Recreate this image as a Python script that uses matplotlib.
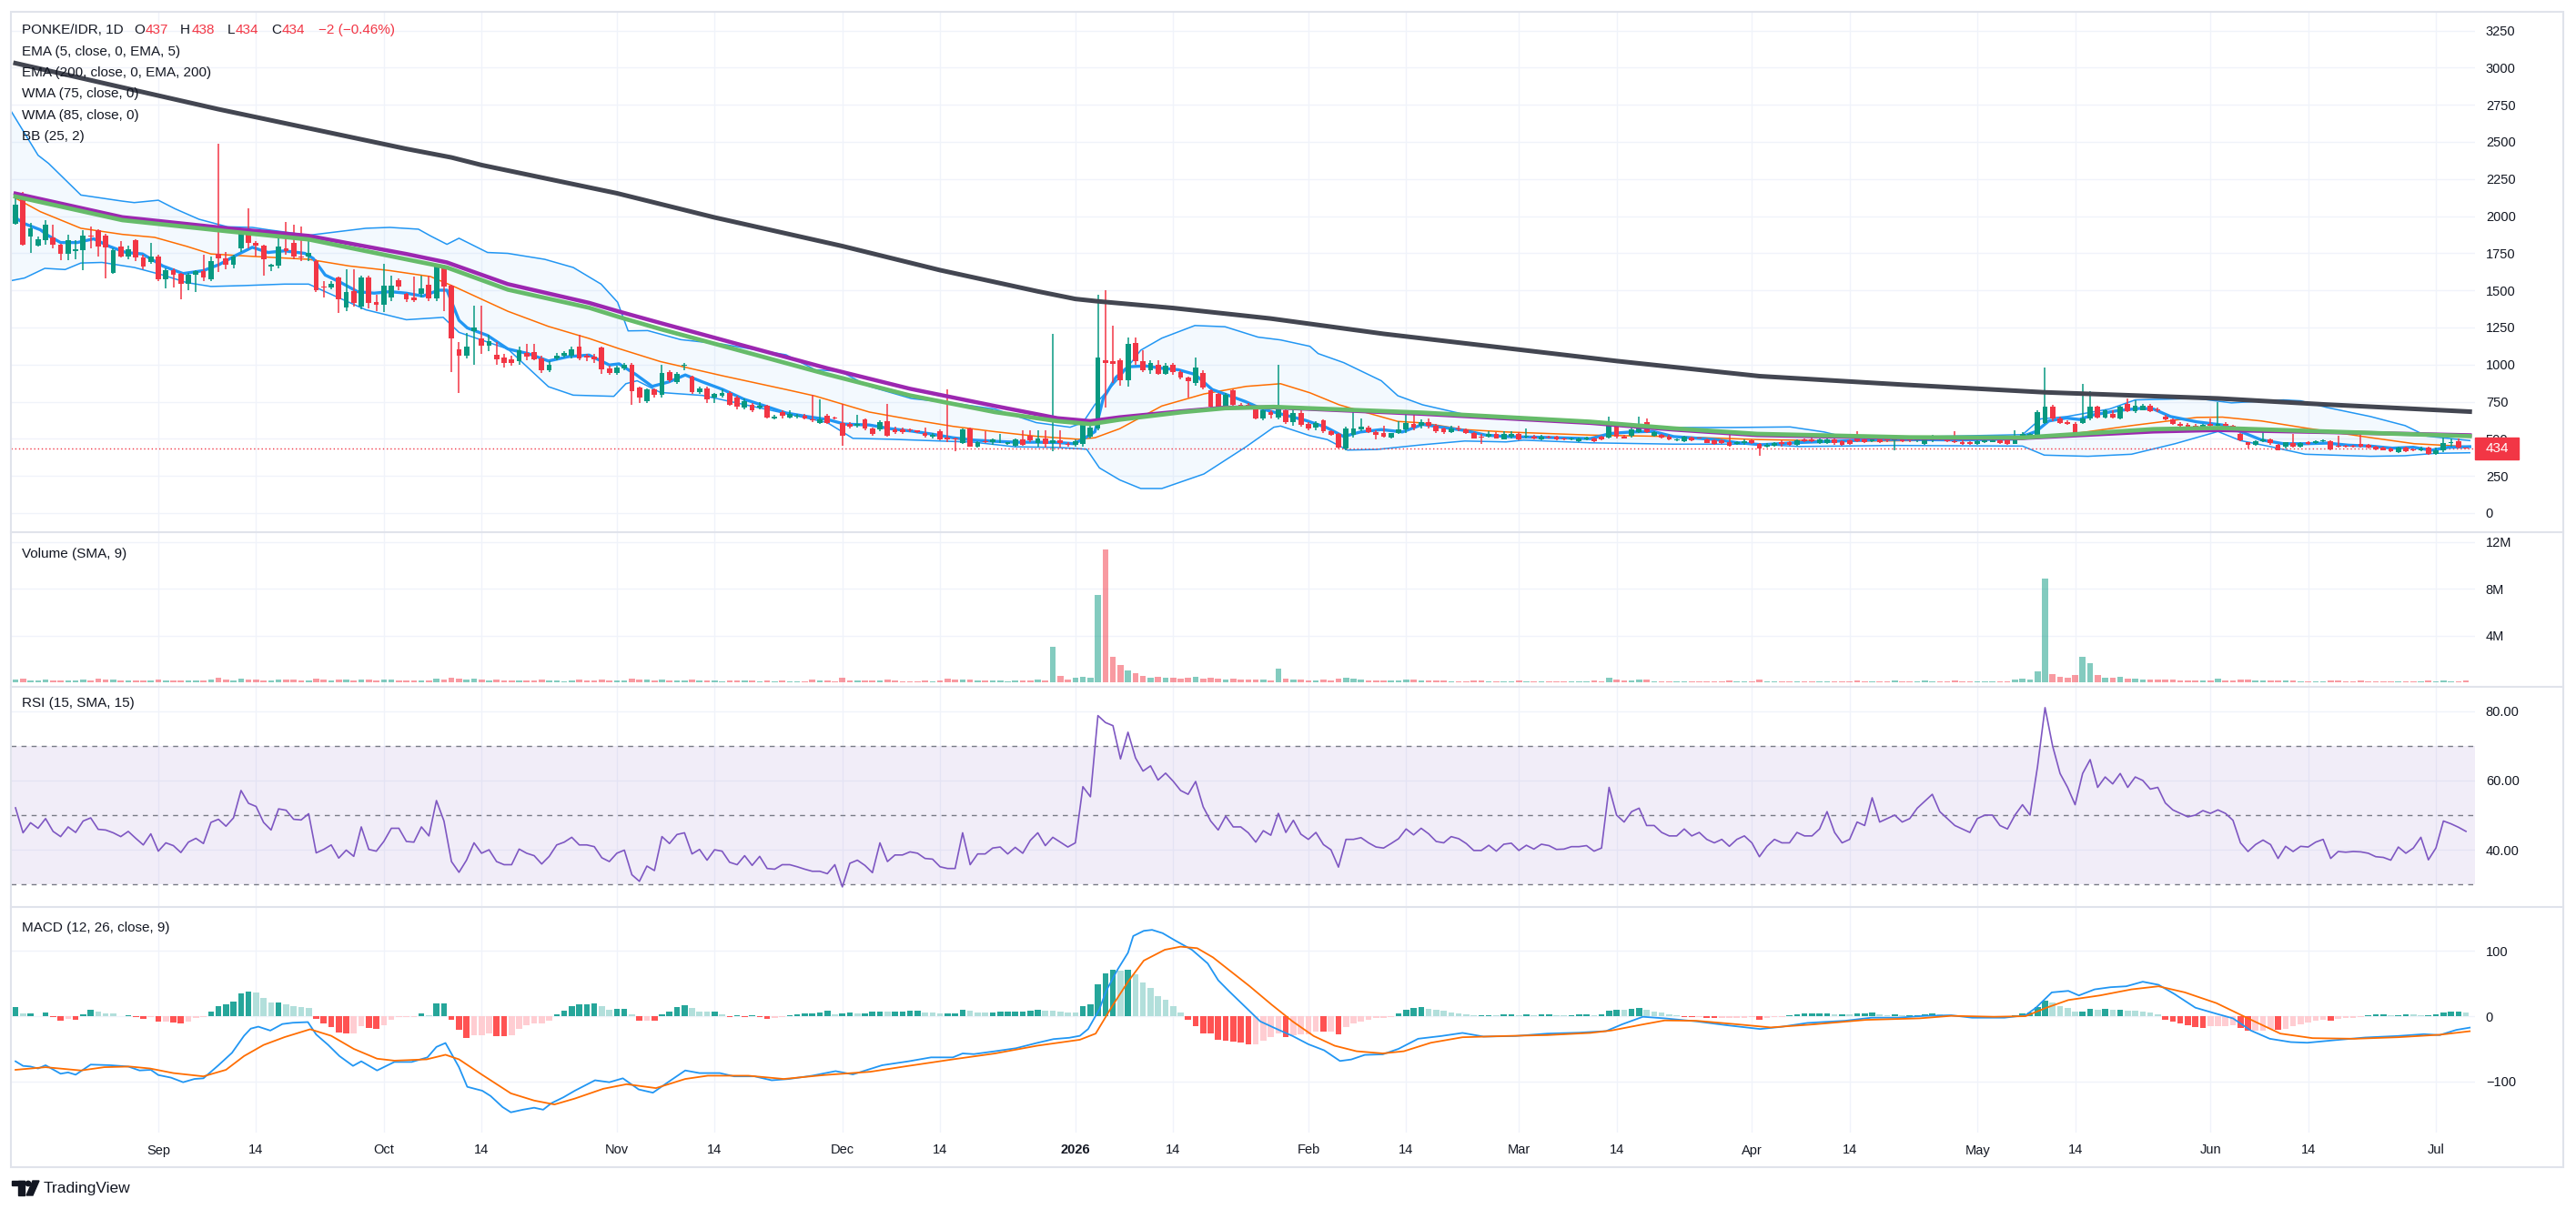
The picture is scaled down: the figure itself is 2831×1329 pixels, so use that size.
import matplotlib
matplotlib.use("Agg")
import matplotlib.pyplot as plt
import matplotlib.transforms as mtransforms
from matplotlib.colors import to_rgba
from matplotlib.lines import Line2D
from matplotlib.patches import Rectangle, Circle, Polygon
import numpy as np
import pandas as pd

plt.rcParams['font.family'] = ['Liberation Sans', 'DejaVu Sans']

W, H = 2831, 1329
start = pd.Timestamp('2025-08-13')

opens = [
    1949, 2152, 1863, 1802, 1837, 1857, 1806, 1749, 1766, 1771,
    1871, 1904, 1871, 1620, 1794, 1729, 1837, 1721, 1690, 1725,
    1577, 1637, 1613, 1546, 1603, 1627, 1577, 1745, 1717, 1672,
    1782, 1898, 1820, 1800, 1660, 1664, 1780, 1817, 1729, 1729,
    1695, 1528, 1522, 1587, 1383, 1495, 1390, 1587, 1420, 1400,
    1454, 1566, 1477, 1450, 1477, 1538, 1446, 1660, 1532, 1104,
    1058, 1223, 1176, 1125, 1064, 1048, 1038, 1020, 1080, 1084,
    1044, 961, 1040, 1062, 1058, 1123, 1062, 1054, 1115, 976,
    942, 975, 999, 843, 755, 832, 796, 948, 883, 990,
    918, 812, 840, 780, 788, 806, 776, 711, 731, 710,
    720, 640, 680, 645, 648, 654, 631, 609, 654, 640,
    609, 598, 590, 629, 568, 564, 619, 564, 564, 560,
    556, 540, 513, 552, 507, 501, 471, 568, 446, 483,
    475, 493, 467, 454, 495, 523, 470, 503, 474, 490,
    466, 458, 466, 517, 572, 1032, 1020, 1028, 897, 1148,
    1025, 961, 1001, 940, 997, 952, 914, 873, 942, 826,
    800, 715, 824, 727, 727, 706, 634, 682, 643, 694,
    611, 672, 603, 576, 623, 550, 534, 434, 525, 566,
    578, 546, 537, 509, 536, 562, 603, 586, 611, 586,
    570, 546, 570, 562, 537, 511, 515, 533, 499, 515,
    530, 513, 517, 493, 517, 513, 505, 495, 485, 495,
    505, 513, 511, 582, 517, 521, 546, 611, 519, 529,
    517, 491, 485, 509, 509, 497, 491, 491, 477, 464,
    469, 489, 464, 444, 454, 477, 478, 460, 497, 497,
    469, 469, 495, 481, 489, 513, 499, 485, 505, 499,
    491, 495, 500, 488, 467, 488, 510, 497, 486, 475,
    476, 466, 475, 480, 490, 500, 468, 503, 520, 520,
    607, 717, 636, 615, 600, 607, 636, 714, 643, 670,
    636, 735, 684, 695, 725, 700, 652, 628, 603, 597,
    590, 575, 600, 585, 600, 590, 532, 475, 461, 482,
    495, 458, 444, 471, 446, 478, 470, 482, 485, 455,
    452, 455, 465, 460, 450, 440, 435, 410, 440, 430,
    420, 442, 395, 420, 470, 485, 437]

highs = [
    2158, 2160, 1952, 1860, 1975, 1942, 1815, 1877, 1837, 1904,
    1930, 1910, 1880, 1785, 1830, 1800, 1845, 1740, 1820, 1740,
    1650, 1650, 1620, 1620, 1635, 1740, 1730, 2490, 1760, 1740,
    1910, 2050, 1830, 1810, 1680, 1900, 1959, 1940, 1930, 1840,
    1710, 1560, 1560, 1590, 1640, 1640, 1600, 1600, 1470, 1680,
    1600, 1580, 1480, 1590, 1600, 1600, 1680, 1670, 1540, 1150,
    1213, 1394, 1394, 1200, 1150, 1070, 1060, 1120, 1140, 1140,
    1060, 1020, 1080, 1090, 1120, 1200, 1070, 1070, 1120, 990,
    990, 1010, 1010, 850, 840, 840, 1000, 960, 950, 1010,
    925, 850, 850, 810, 830, 820, 790, 770, 740, 745,
    730, 660, 690, 690, 670, 670, 796, 765, 665, 650,
    735, 610, 660, 640, 575, 625, 735, 580, 575, 570,
    560, 575, 540, 565, 836, 510, 570, 575, 485, 550,
    500, 535, 480, 505, 560, 560, 560, 560, 1205, 560,
    480, 495, 620, 600, 1473, 1503, 1265, 1040, 1180, 1180,
    1097, 1030, 1030, 1010, 1010, 960, 920, 1050, 960, 835,
    810, 810, 835, 740, 740, 715, 700, 690, 999, 700,
    700, 690, 610, 620, 630, 560, 540, 580, 706, 640,
    590, 560, 590, 540, 620, 660, 670, 630, 640, 600,
    575, 590, 590, 570, 545, 530, 550, 545, 550, 550,
    545, 570, 525, 525, 520, 520, 510, 510, 510, 515,
    510, 520, 650, 600, 525, 580, 650, 640, 550, 535,
    525, 505, 520, 515, 510, 505, 495, 495, 540, 485,
    495, 495, 470, 470, 480, 490, 485, 495, 505, 510,
    500, 505, 500, 490, 495, 550, 510, 515, 510, 505,
    500, 500, 505, 515, 520, 525, 515, 505, 550, 490,
    485, 495, 500, 500, 495, 505, 560, 545, 540, 690,
    980, 730, 650, 625, 610, 867, 820, 725, 700, 690,
    720, 770, 760, 735, 735, 710, 660, 640, 610, 605,
    600, 600, 640, 750, 610, 595, 540, 480, 490, 550,
    500, 465, 480, 530, 480, 485, 490, 495, 490, 520,
    460, 460, 550, 465, 455, 445, 440, 450, 445, 435,
    445, 450, 440, 510, 500, 500, 438]

lows = [
    1940, 1800, 1751, 1795, 1810, 1782, 1705, 1705, 1709, 1633,
    1780, 1730, 1580, 1610, 1720, 1710, 1700, 1640, 1680, 1560,
    1515, 1520, 1440, 1500, 1491, 1560, 1560, 1623, 1640, 1650,
    1760, 1780, 1725, 1600, 1630, 1650, 1740, 1710, 1700, 1700,
    1490, 1450, 1510, 1345, 1360, 1390, 1370, 1380, 1360, 1355,
    1430, 1500, 1420, 1420, 1450, 1430, 1430, 1363, 952, 810,
    1040, 1000, 1070, 1090, 1000, 980, 990, 1000, 1030, 1030,
    945, 950, 1030, 1050, 1040, 1030, 1020, 1010, 935, 930,
    930, 960, 730, 740, 740, 780, 780, 880, 870, 960,
    800, 800, 740, 740, 780, 720, 700, 700, 680, 700,
    635, 630, 640, 640, 635, 630, 610, 600, 600, 630,
    454, 570, 575, 560, 520, 550, 515, 535, 530, 545,
    540, 510, 505, 490, 475, 416, 465, 445, 440, 470,
    460, 470, 460, 445, 455, 475, 445, 440, 416, 440,
    450, 445, 450, 500, 560, 710, 873, 860, 850, 1000,
    950, 940, 930, 930, 930, 900, 780, 860, 830, 700,
    700, 690, 720, 700, 700, 630, 625, 640, 630, 600,
    590, 580, 560, 560, 540, 520, 435, 424, 510, 550,
    540, 495, 510, 500, 530, 540, 560, 570, 570, 540,
    530, 540, 550, 530, 500, 464, 510, 500, 495, 505,
    490, 500, 495, 490, 500, 490, 490, 490, 480, 490,
    475, 490, 505, 505, 500, 510, 540, 540, 515, 505,
    490, 485, 480, 485, 500, 470, 460, 468, 448, 460,
    460, 465, 387, 438, 445, 450, 455, 455, 480, 480,
    465, 465, 460, 455, 460, 475, 470, 480, 472, 480,
    424, 480, 480, 480, 460, 480, 490, 480, 470, 462,
    460, 460, 470, 475, 465, 460, 465, 495, 510, 515,
    600, 620, 600, 595, 535, 600, 625, 640, 635, 635,
    630, 680, 675, 690, 680, 680, 625, 595, 580, 570,
    575, 570, 580, 580, 575, 565, 485, 435, 455, 475,
    462, 420, 435, 440, 440, 460, 465, 475, 420, 440,
    440, 440, 440, 435, 420, 420, 410, 405, 410, 415,
    415, 390, 390, 410, 450, 435, 434]

closes = [
    2075, 1810, 1918, 1847, 1944, 1810, 1749, 1841, 1776, 1871,
    1865, 1796, 1790, 1770, 1729, 1774, 1721, 1658, 1725, 1577,
    1633, 1607, 1546, 1607, 1627, 1587, 1700, 1715, 1672, 1725,
    1898, 1820, 1800, 1710, 1670, 1794, 1766, 1729, 1720, 1755,
    1501, 1518, 1542, 1437, 1487, 1416, 1587, 1416, 1400, 1530,
    1532, 1525, 1440, 1436, 1512, 1446, 1664, 1526, 1176, 1058,
    1121, 1247, 1129, 1156, 1034, 1009, 1009, 1099, 1054, 1034,
    963, 1000, 1062, 1078, 1105, 1044, 1048, 1034, 965, 942,
    981, 1000, 822, 776, 832, 796, 942, 893, 938, 1000,
    816, 840, 767, 800, 806, 731, 715, 755, 690, 725,
    645, 648, 654, 665, 656, 640, 627, 630, 609, 636,
    523, 584, 600, 568, 532, 613, 523, 548, 544, 556,
    548, 521, 527, 497, 495, 495, 564, 450, 478, 479,
    495, 497, 475, 495, 462, 487, 505, 466, 490, 470,
    462, 483, 605, 578, 1046, 1011, 1003, 897, 1137, 1021,
    961, 1009, 940, 991, 950, 910, 890, 979, 847, 715,
    715, 796, 727, 706, 710, 637, 690, 662, 696, 611,
    672, 597, 570, 607, 550, 525, 440, 572, 572, 580,
    546, 525, 517, 536, 562, 605, 576, 611, 586, 550,
    542, 570, 562, 537, 505, 507, 535, 505, 530, 535,
    497, 521, 501, 517, 511, 493, 495, 505, 505, 509,
    481, 493, 595, 513, 505, 566, 590, 546, 542, 511,
    497, 497, 513, 491, 505, 473, 464, 473, 452, 478,
    485, 469, 434, 460, 474, 464, 462, 491, 485, 485,
    493, 499, 471, 460, 464, 481, 475, 509, 479, 491,
    495, 485, 488, 500, 508, 510, 497, 486, 475, 468,
    466, 486, 488, 490, 470, 468, 503, 535, 530, 677,
    717, 636, 607, 600, 540, 636, 714, 643, 690, 643,
    714, 684, 725, 722, 684, 690, 632, 603, 590, 575,
    580, 595, 585, 600, 590, 570, 489, 461, 482, 495,
    470, 424, 475, 446, 470, 468, 482, 490, 428, 448,
    446, 448, 445, 440, 428, 425, 418, 440, 418, 425,
    435, 395, 420, 470, 475, 440, 434]

# volume in millions
volumes = [
    0.25, 0.3, 0.15, 0.12, 0.2, 0.15, 0.18, 0.15, 0.12, 0.25,
    0.15, 0.3, 0.25, 0.2, 0.15, 0.12, 0.18, 0.15, 0.12, 0.2,
    0.15, 0.12, 0.18, 0.15, 0.12, 0.15, 0.2, 0.35, 0.2, 0.18,
    0.3, 0.25, 0.2, 0.18, 0.12, 0.25, 0.2, 0.22, 0.15, 0.12,
    0.3, 0.2, 0.15, 0.25, 0.2, 0.18, 0.22, 0.2, 0.12, 0.25,
    0.2, 0.15, 0.15, 0.12, 0.15, 0.18, 0.3, 0.25, 0.4, 0.3,
    0.25, 0.3, 0.25, 0.15, 0.2, 0.15, 0.12, 0.15, 0.12, 0.15,
    0.2, 0.15, 0.12, 0.1, 0.15, 0.2, 0.12, 0.12, 0.25, 0.15,
    0.12, 0.15, 0.3, 0.2, 0.2, 0.15, 0.25, 0.15, 0.15, 0.12,
    0.2, 0.12, 0.15, 0.12, 0.1, 0.15, 0.15, 0.12, 0.12, 0.1,
    0.15, 0.1, 0.12, 0.1, 0.1, 0.1, 0.2, 0.18, 0.15, 0.1,
    0.35, 0.15, 0.12, 0.15, 0.12, 0.15, 0.25, 0.12, 0.1, 0.1,
    0.1, 0.12, 0.1, 0.15, 0.3, 0.2, 0.2, 0.22, 0.12, 0.15,
    0.12, 0.15, 0.1, 0.15, 0.15, 0.15, 0.2, 0.18, 3.0, 0.55,
    0.25, 0.4, 0.45, 0.35, 7.5, 11.4, 2.2, 1.5, 1.0, 0.8,
    0.55, 0.4, 0.45, 0.4, 0.35, 0.3, 0.35, 0.5, 0.3, 0.35,
    0.3, 0.25, 0.3, 0.2, 0.2, 0.25, 0.2, 0.15, 1.2, 0.3,
    0.25, 0.2, 0.15, 0.15, 0.2, 0.15, 0.3, 0.35, 0.3, 0.2,
    0.15, 0.15, 0.15, 0.12, 0.15, 0.2, 0.2, 0.15, 0.15, 0.15,
    0.12, 0.1, 0.1, 0.1, 0.15, 0.12, 0.1, 0.1, 0.1, 0.1,
    0.12, 0.1, 0.1, 0.1, 0.08, 0.1, 0.08, 0.08, 0.1, 0.08,
    0.12, 0.1, 0.4, 0.25, 0.12, 0.15, 0.2, 0.2, 0.1, 0.1,
    0.1, 0.08, 0.1, 0.08, 0.08, 0.1, 0.1, 0.08, 0.12, 0.08,
    0.08, 0.08, 0.2, 0.1, 0.08, 0.08, 0.08, 0.1, 0.08, 0.08,
    0.08, 0.1, 0.1, 0.08, 0.08, 0.12, 0.08, 0.1, 0.08, 0.08,
    0.15, 0.08, 0.08, 0.08, 0.12, 0.1, 0.08, 0.08, 0.12, 0.08,
    0.08, 0.08, 0.08, 0.08, 0.08, 0.1, 0.2, 0.3, 0.25, 0.9,
    8.9, 0.7, 0.5, 0.4, 0.6, 2.2, 1.6, 0.6, 0.4, 0.35,
    0.45, 0.3, 0.3, 0.25, 0.25, 0.2, 0.2, 0.2, 0.15, 0.15,
    0.12, 0.15, 0.15, 0.3, 0.15, 0.12, 0.25, 0.2, 0.12, 0.15,
    0.12, 0.15, 0.12, 0.15, 0.1, 0.1, 0.08, 0.08, 0.15, 0.12,
    0.08, 0.08, 0.12, 0.08, 0.1, 0.08, 0.08, 0.1, 0.08, 0.08,
    0.08, 0.15, 0.1, 0.15, 0.1, 0.1, 0.12]

rsi = [
    52.1, 44.9, 47.8, 46.2, 49, 45.3, 43.8, 46.6, 45, 48.3,
    49.2, 45.9, 45.7, 44.9, 43.8, 45.3, 43.3, 41.4, 44.6, 39.6,
    42, 41.2, 39.2, 42.2, 43.3, 41.8, 47.9, 48.8, 46.8, 49.2,
    57.1, 53.4, 52.5, 47.9, 45.7, 51.8, 51.4, 48.8, 48.6, 50.4,
    39.1, 40.1, 41.4, 37.6, 39.9, 38.1, 46.6, 40.1, 39.6, 42.4,
    46.2, 46.2, 42.4, 42.2, 46.6, 44, 54.2, 48.3, 36.6, 33.5,
    37, 42, 39, 40, 36.6, 35.7, 35.7, 40.2, 39, 38.3,
    35.9, 38.1, 41.4, 42.2, 43.6, 41.4, 41.4, 40.9, 37.7, 36.6,
    39, 39.9, 32.8, 30.9, 35.3, 34, 43.8, 41.8, 44.4, 44.9,
    38.8, 40.1, 37, 40, 39.6, 36.4, 35.7, 38.3, 35.5, 38.1,
    34.6, 34.4, 35.7, 35.7, 35.1, 34.4, 33.8, 33.8, 33.1, 35.7,
    29.3, 36.1, 37, 35.5, 33.4, 42, 36.6, 38.5, 38.5, 39.4,
    39, 37.5, 37.3, 35.1, 34.6, 34.6, 44.9, 35.7, 38.8, 38.8,
    40.5, 40.8, 38.8, 40.7, 39, 42.7, 44.9, 41.2, 43.6, 42.2,
    40.8, 42, 58.2, 55.3, 78.7, 76.7, 75.8, 66.2, 73.9, 66.5,
    62.7, 64.2, 60.1, 62.1, 59.8, 57.1, 56, 59.7, 52.4, 48.3,
    45.7, 49.7, 46.6, 46.6, 44.9, 42.2, 45.5, 44.2,
    50.5, 45, 48.5, 44.5, 43, 45, 41.5, 40, 35, 43,
    43, 43.5, 42, 40.8, 40.5, 41.8, 43.2, 46, 44.3, 46.2,
    44.6, 42.4, 42, 43.8, 43.2, 41.8, 39.8, 39.8, 41.3, 39.6,
    41.6, 41.9, 39.8, 41.3, 40.2, 41.6, 41.2, 40.1, 40.2, 40.9,
    40.9, 41.2, 39.6, 40.5, 58, 50, 48, 51, 52, 47,
    47, 45, 44, 44, 46, 44, 45, 43, 42, 43,
    41, 43, 44, 42, 38, 41, 43, 42, 42, 45,
    44, 44, 46, 51, 45, 42, 43, 48, 47, 55,
    48, 49, 50, 48, 49, 52, 54, 56, 51, 49,
    47, 46, 45, 49, 50, 50, 47, 46, 50, 53,
    50, 64, 81, 70, 62, 58, 53, 62, 66, 58,
    61, 59, 62, 58, 61, 60, 57.5, 58, 53.5, 51.5,
    50.5, 49.5, 50, 51.3, 50.5, 51.5, 50.5, 48.5, 42, 39.5,
    41.5, 42.8, 41.5, 37.5, 41, 39.5, 41, 40.8, 42.2, 43,
    37.5, 39.5, 39.3, 39.5, 39.4, 39, 38, 37.8, 37, 40.8,
    39, 40.5, 43.6, 37.1, 40.5, 48.3, 47.5, 46.5, 45.3]

macd_hist = [
    13.5, 3.7, 3.7, -0.5, 5.6, -1, -7.5, -4, -5.6, 2.8,
    9.3, 6.5, 4.7, 3.7, -0.5, 1.9, -1, -3.7, -2, -8.4,
    -8.4, -9.3, -11.2, -8.4, -2.8, -1.9, 7.5, 15.9, 17.7, 22.4,
    35.4, 37.3, 36.4, 28, 21.4, 21.4, 17.7, 15.4, 14, 13,
    -4.7, -11.2, -16.8, -25, -26, -26, -15.8, -18.2, -19.6, -14,
    -5.6, -1.9, -1, -1, 4.7, 1.9, 19, 19, -5.6, -21.4,
    -33.6, -29, -29, -26, -30, -31, -29, -19.6, -14, -11.2,
    -11.2, -6.5, 2.8, 8.4, 15.9, 17.7, 18.6, 19, 14.9, 10.3,
    11.2, 11.2, 2.8, -6.5, -6.5, -7.5, 2.8, 7.5, 13.5, 16.8,
    13, 7.5, 6.5, 6.5, 2.8, -1, 1.4, -1, 1.9, -1.4,
    -3.7, -2.8, -1, 1, 2.8, 3.7, 4.7, 5.1, 7.9, 2.8,
    4.7, 5.1, 4.2, 4.2, 7.5, 7.5, 6.5, 7.5, 7.5, 8,
    9, 6, 5, 4, 4, 4, 10, 8, 6, 5,
    6, 7, 7, 7, 7, 9, 10, 9, 8, 7,
    6, 5, 16, 18, 49, 65, 71, 70, 71, 64,
    52, 43, 31, 25, 16, 6, -5.6, -15, -26, -27,
    -36, -37, -39, -40.5, -43, -43, -38, -32, -26.6, -32.6,
    -29, -28, -28, -23, -24, -23, -28, -16, -11.7, -8,
    -5.6, -3.3, -2.3, -1.4, 4.7, 9.8, 13, 14, 10.7, 9.3,
    8, 6, 4.7, 2.8, 1.4, 1.4, 1.9, 1.4, 2.3, 2.8,
    1.4, 2.3, 1.4, 2.8, 2.8, 1.4, 1, 1.4, 2.3, 2.8,
    1.4, 2.3, 8.9, 9.8, 9.3, 10.7, 12, 9.3, 7.5, 5.1,
    2.8, 1.4, -1, -1.9, -1.9, -2.8, -3.3, -3.3, -3.3, -2.3,
    -2.3, -1.9, -5.6, -2.3, -1.4, -1.4, 1.4, 2.8, 4.2, 4.2,
    4.7, 4.7, 3.3, 3.3, 2.3, 4.2, 4.2, 5.1, 3.3, 1.9,
    2.3, 1.4, 1.4, 1.9, 2.8, 3.7, 2.3, 1.4, 0.5, -0.9,
    -0.9, -0.5, -0.5, 0.5, -0.5, -0.5, 1.4, 3.7, 6, 14,
    23.8, 21, 16, 12, 7, 7, 11.7, 9.3, 10.7, 9.3,
    9.8, 8.4, 7.9, 7, 5.1, 2.8, -5.6, -8.9, -11.2, -14,
    -16.3, -18.2, -15.9, -15.9, -15, -13.5, -18.2, -22, -22, -22,
    -19.6, -21, -19.6, -15, -12.6, -9.3, -7, -5.6, -7, -4.2,
    -3.3, -2.3, -1.4, 1.4, 2.3, 2.3, 1.4, 1.4, 2.8, 2.3,
    1.4, 1.4, 3.3, 6, 6.5, 6.5, 6]

# indicator lines as (day index, value)
ema5_pts = [
    (0, 1989), (1.2, 1949), (3.3, 1908), (4.4, 1867), (6, 1822), (8.2, 1822), (10.4, 1847),
    (12.5, 1796), (14.7, 1755), (16.9, 1745), (19.6, 1664), (22.3, 1613), (25, 1633),
    (27.1, 1674), (29.3, 1735), (31.5, 1790), (33.6, 1755), (35.8, 1766), (38.5, 1749),
    (39.6, 1715), (41.2, 1603), (43.3, 1552), (45.5, 1491), (47.7, 1481), (49.8, 1491),
    (52, 1481), (54.2, 1461), (56.3, 1501), (57.4, 1501), (59, 1298), (60.1, 1247),
    (62.8, 1196), (65.5, 1105), (68.2, 1074), (70.9, 1024), (73.6, 1054), (76.3, 1064),
    (79, 997), (80.3, 1005), (82.5, 934), (84.7, 853), (86.9, 883), (89.1, 930),
    (91.4, 883), (94.1, 832), (96.9, 767), (99.7, 721), (102.5, 674), (105.3, 650),
    (108.1, 629), (110.3, 599), (113.6, 593), (116.4, 568), (119.2, 552), (121.9, 532),
    (124.7, 507), (127.5, 491), (130.3, 483), (133.1, 477), (135.8, 477), (138.6, 475),
    (140.8, 467), (142, 497), (143.6, 548), (144.7, 771), (146.4, 914), (148, 985),
    (150.3, 991), (152.5, 975), (154.7, 965), (156.9, 934), (159.2, 832), (161.4, 792),
    (163.6, 751), (165.9, 700), (168.3, 668), (171.7, 623), (174.4, 576), (176.7, 515),
    (178.9, 546), (181.7, 562), (184.5, 546), (187.2, 597), (190, 576), (192.8, 556),
    (195.6, 525), (198.4, 515), (203.9, 509), (209.5, 501), (212.2, 536), (215, 546),
    (217.8, 550), (220.6, 515), (226.1, 495), (228.9, 475), (232.3, 460), (237.3, 475),
    (242.8, 485), (248.4, 495), (252.2, 495), (258.4, 492), (265.9, 498), (268.8, 549),
    (270.5, 620), (272.8, 640), (274.6, 630), (276.3, 660), (279.8, 691), (282.7, 705),
    (284.4, 701), (286.7, 650), (290.2, 614), (293.6, 593), (296, 549), (298.8, 492),
    (301.7, 467), (304.6, 467), (307.5, 471), (310.4, 457), (313.3, 451), (316.2, 437),
    (319, 443), (321.4, 423), (323.7, 443), (326.5, 447)]

ema200_pts = [
    (0, 3030), (27, 2720), (52, 2453), (58, 2395), (62, 2344), (80, 2154), (93, 1991),
    (110, 1798), (123, 1636), (136, 1493), (141, 1442), (144, 1426), (154, 1381),
    (167, 1310), (182, 1207), (201, 1095), (213, 1024), (232, 922), (251, 865),
    (270, 813), (293, 772), (307, 732), (326.5, 683)]

wma75_pts = [
    (0, 2132), (14.2, 1973), (28.2, 1898), (39, 1843), (52, 1709), (57.4, 1654),
    (65.5, 1505), (76.3, 1383), (80.3, 1320), (85.8, 1239), (96.9, 1087), (108, 934),
    (119, 792), (130.3, 680), (138.6, 619), (143, 599), (146.9, 629), (155.3, 680),
    (160.9, 706), (167.4, 715), (187.2, 676), (209.5, 615), (220.6, 570), (231.7, 533),
    (252, 510), (267, 508), (284.4, 565), (293, 573), (307.5, 549), (326.5, 518)]

wma85_pts = [
    (0, 2152), (14.2, 1993), (28.2, 1918), (39, 1867), (52, 1745), (57.4, 1688),
    (65.5, 1542), (76.3, 1416), (80.3, 1357), (85.8, 1280), (96.9, 1127), (108, 975),
    (119, 837), (130.3, 721), (138.6, 639), (143, 619), (146.9, 645), (155.3, 686),
    (160.9, 710), (167.4, 712), (187.2, 668), (209.5, 607), (220.6, 562), (231.7, 525),
    (252, 505), (267, 505), (284.4, 549), (293, 559), (307.5, 545), (326.5, 524)]

bb_upper_pts = [
    (-0.5, 2700), (3, 2410), (4.4, 2355), (8.7, 2142), (14.2, 2101), (15.8, 2091), (19, 2107),
    (21.2, 2050), (24.4, 1979), (28.2, 1928), (31.5, 1924), (33.6, 1908), (39, 1871),
    (46.6, 1918), (49.8, 1924), (53.6, 1912), (55.2, 1867), (57.4, 1810), (59, 1851),
    (62.8, 1755), (65.5, 1749), (70.4, 1709), (74.2, 1654), (77.9, 1542), (80.1, 1420),
    (81.5, 1227), (84.1, 1229), (88.5, 1168), (94.1, 1137), (102.5, 1066), (106.4, 965),
    (109.7, 955), (113.6, 853), (119.2, 771), (124.7, 741), (130.3, 700), (135.8, 609),
    (140.3, 578), (142, 609), (143.6, 731), (146.9, 914), (149.7, 1097), (152.5, 1178),
    (156.9, 1263), (160.9, 1255), (165.3, 1185), (168.3, 1166), (172.2, 1123),
    (173.3, 1074), (176.7, 1013), (181.7, 891), (183.9, 790), (187.2, 729), (192.8, 664),
    (196.1, 637), (200.6, 627), (207.2, 617), (212.2, 607), (217.8, 576), (223.4, 576),
    (227.8, 576), (236.1, 580), (240.6, 546), (242.8, 519), (249.7, 510), (267, 528),
    (269.4, 634), (272.9, 650), (278.6, 701), (282, 762), (290.2, 772), (294.8, 742),
    (301.7, 762), (304, 756), (307.5, 711), (313.3, 650), (317.9, 589), (320.8, 518),
    (326.5, 488)]

bb_lower_pts = [
    (-0.5, 1566), (1.2, 1583), (3.9, 1648), (6.6, 1640), (8.7, 1684), (11.5, 1688),
    (15.8, 1654), (19.6, 1603), (22.8, 1552), (26, 1526), (30.4, 1532), (35.8, 1542),
    (39, 1542), (41.2, 1491), (46.6, 1369), (52, 1302), (56.9, 1318), (59, 1217),
    (65.5, 1105), (70.9, 851), (74.2, 794), (79.6, 786), (81.2, 871), (82.7, 891),
    (85.8, 812), (91.4, 792), (96.9, 731), (102.5, 670), (108, 609), (111.4, 503),
    (116.4, 497), (122, 487), (127.5, 477), (133, 446), (138.6, 442), (142.5, 430),
    (144.2, 304), (146.9, 223), (149.7, 165), (152.5, 165), (158.1, 263), (163.7, 446),
    (167.4, 578), (168.3, 586), (172.2, 521), (174.5, 495), (177.2, 424), (181.1, 428),
    (187.2, 460), (192.8, 485), (198.3, 479), (200.6, 491), (209.5, 473), (220.6, 464),
    (231.7, 464), (237.3, 448), (249.7, 455), (267, 451), (269.9, 390), (275.7, 382),
    (281.5, 396), (287.3, 467), (293, 549), (296, 488), (300, 447), (304.6, 396),
    (313.3, 382), (317.9, 386), (321.9, 402), (326.5, 406)]

bb_basis_pts = [
    (0, 2121), (3.3, 2030), (8.7, 1918), (14.2, 1877), (18.5, 1857), (22.8, 1796),
    (26, 1745), (31.5, 1729), (39, 1709), (44.4, 1664), (49.8, 1633), (55.2, 1593),
    (58.5, 1522), (65.5, 1359), (70.9, 1257), (76.3, 1176), (80.3, 1107), (85.8, 1020),
    (94.1, 924), (102.5, 832), (106.4, 788), (113.6, 680), (119.2, 629), (124.7, 584),
    (130.3, 548), (135.8, 517), (141.4, 497), (143.6, 507), (146.9, 568), (152.5, 721),
    (158.1, 802), (163.7, 853), (168.3, 871), (172.2, 810), (176.1, 729), (178.9, 688),
    (183.9, 617), (187.2, 607), (192.8, 562), (198.3, 546), (209.5, 525), (220.6, 515),
    (231.7, 495), (242.8, 485), (249.7, 486), (267, 498), (272.9, 528), (281.5, 589),
    (290.2, 644), (293.6, 646), (298.8, 620), (304.6, 573), (313.3, 508), (319.1, 467),
    (326.5, 447)]

macd_pts = [
    (0, -69), (1, -76), (2, -77), (3, -80), (4, -75), (6, -88), (7, -86), (8, -89.5),
    (10, -74), (12.6, -75), (15, -77), (16.5, -83), (18, -82), (19, -90), (20.7, -94),
    (22.3, -101), (23.8, -96), (25, -95), (27, -75), (28.8, -56), (30.4, -30), (31.3, -19),
    (32.3, -16), (33.9, -22), (35.5, -12), (36.9, -10), (38.9, -9), (40, -28), (41.6, -44),
    (43.1, -61), (44.9, -76), (46, -69), (48.1, -83), (50.4, -70), (52.7, -70), (54.8, -63),
    (56, -47), (57.2, -41), (59, -78), (60.1, -108), (62.1, -114), (63.2, -122),
    (64.8, -139), (65.9, -147), (67.5, -143), (69, -140), (70.2, -143), (71.3, -133),
    (72.9, -124), (74.4, -114), (77.1, -98), (79, -101), (80.8, -95), (82.9, -112),
    (84.8, -117), (86.8, -101), (89.1, -83), (91, -87), (93.7, -87), (95.6, -92),
    (98.3, -92), (100.6, -98), (102.9, -96), (106, -91), (109.1, -84), (111.4, -89),
    (115.3, -75), (118.8, -69), (121.8, -63), (124.7, -63), (126, -57), (127.5, -58),
    (130.3, -53.6), (133.1, -49), (136, -40.6), (138.1, -35), (140.2, -33), (141.6, -30),
    (142.7, -19.6), (144.2, 10.7), (145.1, 38.7), (146.6, 71), (148, 97), (148.7, 122.6),
    (150.1, 130.5), (151.2, 132), (152.6, 127), (154.3, 115.6), (156.5, 101.6),
    (158.6, 80.7), (160, 55), (161.4, 38.7), (163.5, 15.4), (165.6, -8), (167.8, -19.6),
    (169.9, -30.3), (172, -42.9), (174.1, -52.2), (176.2, -68.5), (177.7, -66.2),
    (179.5, -59.2), (181.9, -58.3), (184, -49.9), (186.6, -34.5), (189.7, -30.3),
    (192.5, -25.6), (195.3, -31.2), (199.6, -30.3), (203.8, -26.6), (208, -25.2),
    (211.6, -22.8), (213.7, -12.6), (216.5, -0.9), (219.4, -3.3), (223.6, -7.9),
    (227.8, -14), (232.1, -19.6), (234.9, -16.3), (238.4, -10.3), (243.4, -7),
    (246.9, -2.3), (250.4, -2.3), (254, 0.5), (257.5, 1.4), (260.3, -2.3), (264.6, -2.3),
    (267.4, 1.4), (268.8, 13), (270.9, 36.4), (273.1, 38.7), (274.5, 31.7), (276.6, 41),
    (278.7, 44.3), (280.8, 45.7), (283, 52.7), (285.1, 48), (287.2, 34), (290, 13),
    (292.8, 3.7), (295, -3.3), (297.4, -22), (299.9, -34.5), (302.7, -39.6),
    (304.9, -40.6), (308.4, -36.8), (312.6, -32.6), (316.9, -30.3), (320.4, -27.5),
    (322.5, -28.9), (324.7, -21), (326.5, -17.5)]

signal_pts = [
    (0, -82), (4, -78), (8.7, -83), (11.8, -78), (15.2, -77), (17.9, -80), (21, -87),
    (25, -92), (28, -82), (30.4, -61), (33, -44), (35.8, -32), (39.2, -20), (42, -30),
    (45, -50), (48.1, -65), (50.4, -68), (54.7, -66), (57.2, -59), (59, -66), (62, -89),
    (65.9, -118), (69, -129), (71.7, -135), (74.4, -126), (78.2, -111), (81.3, -104),
    (85.2, -110), (89.1, -96), (92.1, -91), (97.5, -91), (102.2, -96), (107.6, -90),
    (113.7, -85), (118.8, -76), (124.7, -66), (130.3, -57), (136, -45), (141.6, -36),
    (143.7, -26.6), (145.9, 15.4), (148, 52.7), (150.1, 85), (152.9, 101.6), (155, 106.3),
    (157.2, 104), (159.3, 90), (161.4, 71), (164.2, 45.7), (167.1, 17.7), (169.9, -8),
    (172.7, -30.3), (175.5, -45.2), (178.4, -53.6), (181.9, -56.9), (184.7, -53.6),
    (188.3, -40.6), (192.5, -32.2), (198.2, -30.3), (203.8, -28.9), (209.5, -25.6),
    (212.3, -21.9), (216.5, -12.6), (219.4, -6.5), (223.6, -7), (229.2, -12.6),
    (233.5, -17.2), (239.1, -12.6), (246.2, -5.6), (253.3, -3.3), (257.5, 0.5),
    (263.2, -0.9), (267.4, 0), (270.2, 13), (273.1, 24.7), (277.3, 31.7), (281.5, 41),
    (285.1, 45.7), (288.6, 36.4), (292.8, 20), (297, -3.3), (301.3, -26.6),
    (305.6, -33.6), (311.2, -34.5), (316.9, -32.2), (322.5, -28.4), (326.5, -23)]

tick_dates = ['2025-09-01', '2025-09-14', '2025-10-01', '2025-10-14', '2025-11-01',
              '2025-11-14', '2025-12-01', '2025-12-14', '2026-01-01', '2026-01-14',
              '2026-02-01', '2026-02-14', '2026-03-01', '2026-03-14', '2026-04-01',
              '2026-04-14', '2026-05-01', '2026-05-14', '2026-06-01', '2026-06-14',
              '2026-07-01']
tick_labels = ['Sep', '14', 'Oct', '14', 'Nov', '14', 'Dec', '14', '2026', '14', 'Feb',
               '14', 'Mar', '14', 'Apr', '14', 'May', '14', 'Jun', '14', 'Jul']

UP, DN = '#089981', '#f23645'
TXT = '#131722'
GRID = '#f0f3fa'
SEP = '#e0e3eb'

fig = plt.figure(figsize=(W / 100, H / 100), dpi=100)
fig.patch.set_facecolor('white')


def panel(top, bottom, share=None):
    return fig.add_axes([12 / W, 1 - bottom / H, (2720 - 12) / W, (bottom - top) / H],
                        sharex=share)


ax_p = panel(13, 585)
ax_v = panel(585, 755, ax_p)
ax_r = panel(755, 997, ax_p)
ax_m = panel(997, 1245, ax_p)

tick_pos = [(pd.Timestamp(d) - start).days for d in tick_dates]

for ax in (ax_p, ax_v, ax_r, ax_m):
    for s in ax.spines.values():
        s.set_visible(False)
    ax.yaxis.tick_right()
    ax.tick_params(length=0, labelsize=10.5, labelcolor=TXT, pad=8.5)
    ax.set_axisbelow(True)
    ax.grid(True, color=GRID, lw=1)
    ax.set_facecolor('none')
ax_p.set_xticks(tick_pos)
ax_p.set_xlim(-0.61, 327.2)
for ax in (ax_p, ax_v, ax_r):
    ax.tick_params(labelbottom=False)
ax_m.set_xticklabels(tick_labels)
ax_m.tick_params(axis='x', pad=9)
for lab in ax_m.get_xticklabels():
    if lab.get_text() == '2026':
        lab.set_fontweight('bold')

days = np.arange(len(closes))
o, hi, lo, c = (np.array(a, float) for a in (opens, highs, lows, closes))
up = c >= o
cols = np.where(up, UP, DN)


def line(ax, pts, **kw):
    x, y = zip(*pts)
    ax.plot(x, y, **kw)


# price panel
ux, uy = zip(*bb_upper_pts)
lx, ly = zip(*bb_lower_pts)
ax_p.fill(list(ux) + list(lx[::-1]), list(uy) + list(ly[::-1]),
          color='#2196f3', alpha=0.05, lw=0, zorder=1)
line(ax_p, bb_upper_pts, color='#2196f3', lw=1.1, zorder=2)
line(ax_p, bb_lower_pts, color='#2196f3', lw=1.1, zorder=2)
line(ax_p, bb_basis_pts, color='#ff6d00', lw=1.1, zorder=2)
ax_p.axhline(434, color=DN, lw=1, ls=(0, (1, 2)), zorder=2)
line(ax_p, ema5_pts, color='#2196f3', lw=2.4, zorder=3)
ax_p.vlines(days, lo, hi, colors=cols, lw=1.1, zorder=4)
ax_p.bar(days, np.maximum(np.abs(c - o), 5), bottom=np.minimum(o, c), width=0.7,
         color=cols, lw=0, zorder=5)
line(ax_p, wma85_pts, color='#9c27b0', lw=3.2, zorder=6)
line(ax_p, wma75_pts, color='#66bb6a', lw=3.4, zorder=6.5)
line(ax_p, ema200_pts, color='#434651', lw=3.6, zorder=7)
ax_p.set_ylim(-129, 3376)
ax_p.set_yticks(range(0, 3251, 250))

blend = mtransforms.blended_transform_factory(ax_p.transAxes, ax_p.transData)
ax_p.add_patch(Rectangle((1.0, 434 - 72), 0.0177, 144, transform=blend, color=DN,
                         clip_on=False, zorder=10))
ax_p.text(1.0089, 434, '434', transform=blend, color='white', fontsize=11,
          ha='center', va='center', zorder=11, clip_on=False)

# volume
vcols = [to_rgba(UP if u else DN, 0.5) for u in up]
ax_v.bar(days, volumes, width=0.8, color=vcols, lw=0)
ax_v.set_ylim(-0.39, 12.85)
ax_v.set_yticks([4, 8, 12])
ax_v.set_yticklabels(['4M', '8M', '12M'])

# RSI
ax_r.axhspan(30, 70, color='#7e57c2', alpha=0.1, lw=0)
for lvl in (70, 50, 30):
    ax_r.axhline(lvl, color='#787b86', lw=1, ls=(0, (4, 4)))
ax_r.plot(days, rsi, color='#7e57c2', lw=1.2)
ax_r.set_ylim(23.5, 87)
ax_r.set_yticks([40, 60, 80])
ax_r.set_yticklabels(['40.00', '60.00', '80.00'])

# MACD
hcols = []
prev = 0
for hv in macd_hist:
    if hv >= 0:
        hcols.append('#26a69a' if hv >= prev else '#b2dfdb')
    else:
        hcols.append('#ffcdd2' if hv >= prev else '#ff5252')
    prev = hv
ax_m.bar(days, macd_hist, width=0.8, color=hcols, lw=0)
line(ax_m, macd_pts, color='#2196f3', lw=1.3)
line(ax_m, signal_pts, color='#ff6d00', lw=1.3)
ax_m.set_ylim(-178, 167)
ax_m.set_yticks([-100, 0, 100])
ax_m.set_yticklabels(['\u2212100', '0', '100'])

# frame and separators
fig.add_artist(Rectangle((12 / W, 1 - 1283 / H), (2817 - 12) / W, (1283 - 13) / H,
                         transform=fig.transFigure, fill=False, ec=SEP, lw=1.5))
for yy in (585, 755, 997):
    fig.add_artist(Line2D([12 / W, 2817 / W], [1 - yy / H] * 2,
                          transform=fig.transFigure, color=SEP, lw=1.5))


def ftext(x, y, s, **kw):
    kw.setdefault('fontsize', 11)
    kw.setdefault('color', TXT)
    fig.text(x / W, 1 - y / H, s, va='center', ha='left', **kw)


header = [('PONKE/IDR, 1D', 24, TXT), ('O', 147, TXT), ('437', 160, DN), ('H', 198, TXT),
          ('438', 211, DN), ('L', 250, TXT), ('434', 259, DN), ('C', 298, TXT),
          ('434', 310, DN), ('\u22122 (\u22120.46%)', 350, DN)]
for s, x, col in header:
    ftext(x, 33, s, color=col)
legend = ['EMA (5, close, 0, EMA, 5)', 'EMA (200, close, 0, EMA, 200)',
          'WMA (75, close, 0)', 'WMA (85, close, 0)', 'BB (25, 2)']
for i, s in enumerate(legend):
    ftext(24, 57 + i * 23.2, s)
ftext(24, 609, 'Volume (SMA, 9)')
ftext(24, 773, 'RSI (15, SMA, 15)')
ftext(24, 1020, 'MACD (12, 26, close, 9)')

# TradingView mark
ident = mtransforms.IdentityTransform()
fig.add_artist(Rectangle((13, H - 1303), 14, 5, transform=ident, color=TXT))
fig.add_artist(Rectangle((20, H - 1314), 7, 16, transform=ident, color=TXT))
fig.add_artist(Circle((31, H - 1301), 2.7, transform=ident, color=TXT))
fig.add_artist(Polygon([(36, H - 1298), (43, H - 1298), (36, H - 1314), (29, H - 1314)],
                       transform=ident, color=TXT))
ftext(48, 1306, 'TradingView', fontsize=12.5)

fig.savefig('out.png', dpi=100, facecolor='white')
